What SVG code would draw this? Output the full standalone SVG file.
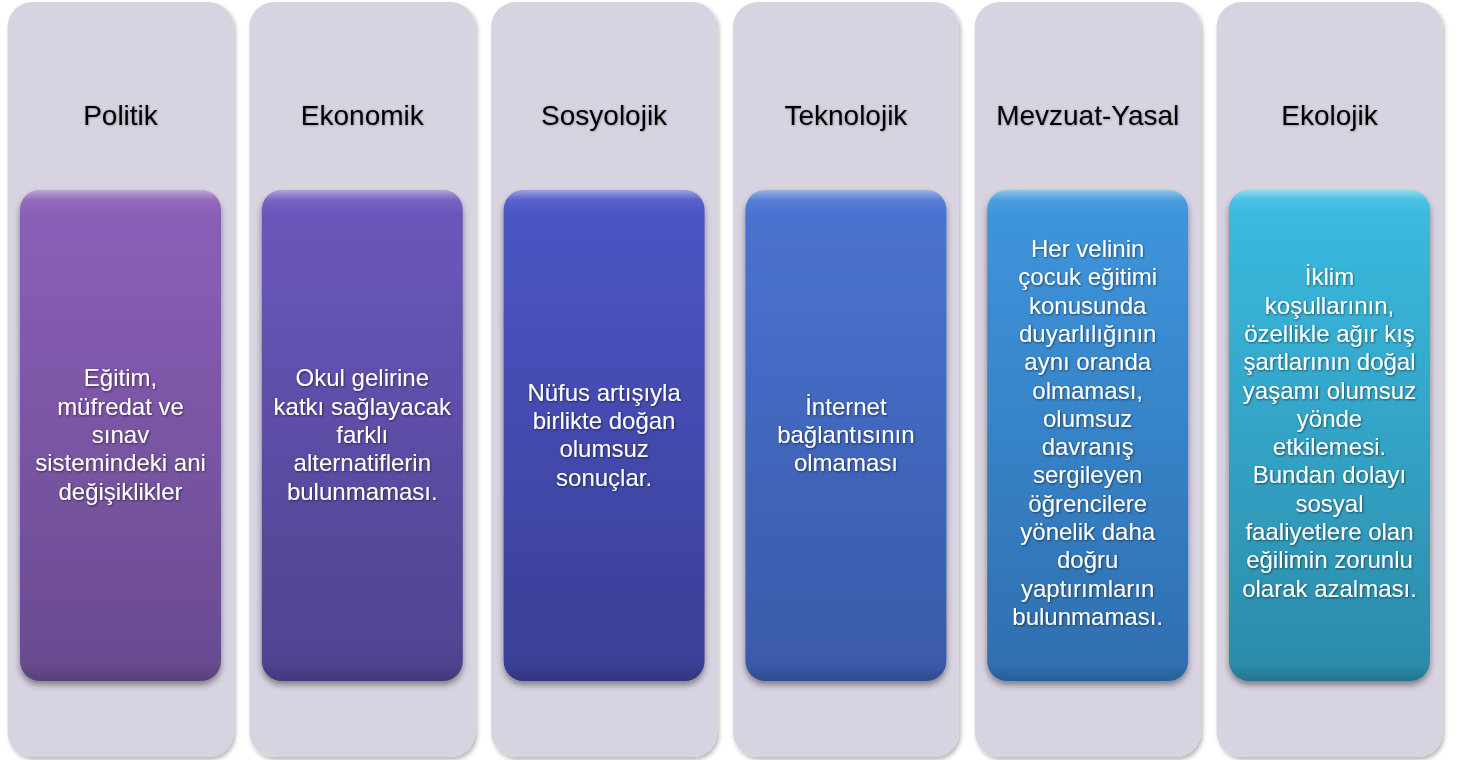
<svg xmlns="http://www.w3.org/2000/svg" width="1474" height="760" viewBox="0 0 1474 760">
<defs>
<style>
.outer{fill:#d7d3e1;filter:url(#oshadow)}
.inner{filter:url(#ishadow)}
.bevel{fill:url(#bevel)}
.head{font-family:"Liberation Sans",Arial,sans-serif;font-size:28px;fill:#000;text-anchor:middle;filter:url(#hshadow)}
.body{font-family:"Liberation Sans",Arial,sans-serif;font-size:24px;fill:#fff;text-anchor:middle;filter:url(#tshadow)}
</style>
<filter id="oshadow" x="-10%" y="-5%" width="125%" height="112%"><feDropShadow dx="2" dy="3" stdDeviation="2" flood-color="#000" flood-opacity="0.28"/></filter>
<filter id="ishadow" x="-10%" y="-5%" width="125%" height="115%"><feDropShadow dx="0" dy="4" stdDeviation="3" flood-color="#000" flood-opacity="0.4"/></filter>
<filter id="hshadow" x="-10%" y="-30%" width="120%" height="160%"><feDropShadow dx="0.5" dy="0.5" stdDeviation="0.8" flood-color="#000" flood-opacity="0.35"/></filter>
<filter id="tshadow" x="-10%" y="-10%" width="120%" height="120%"><feDropShadow dx="0.8" dy="1" stdDeviation="1" flood-color="#000" flood-opacity="0.55"/></filter>
<linearGradient id="bevel" x1="0" y1="0" x2="0" y2="1">
<stop offset="0" stop-color="#fff" stop-opacity="0.45"/>
<stop offset="0.02" stop-color="#fff" stop-opacity="0.08"/>
<stop offset="0.05" stop-color="#fff" stop-opacity="0"/>
<stop offset="0.965" stop-color="#000" stop-opacity="0"/>
<stop offset="1" stop-color="#000" stop-opacity="0.15"/>
</linearGradient>
<linearGradient id="g1" x1="0" y1="0" x2="0" y2="1"><stop offset="0" stop-color="#8c5fb9"/><stop offset="1" stop-color="#684b8f"/></linearGradient>
<linearGradient id="g2" x1="0" y1="0" x2="0" y2="1"><stop offset="0" stop-color="#6c58bd"/><stop offset="1" stop-color="#4f428f"/></linearGradient>
<linearGradient id="g3" x1="0" y1="0" x2="0" y2="1"><stop offset="0" stop-color="#4c56c6"/><stop offset="1" stop-color="#3a3e95"/></linearGradient>
<linearGradient id="g4" x1="0" y1="0" x2="0" y2="1"><stop offset="0" stop-color="#4a74d2"/><stop offset="1" stop-color="#3959a8"/></linearGradient>
<linearGradient id="g5" x1="0" y1="0" x2="0" y2="1"><stop offset="0" stop-color="#3e97de"/><stop offset="1" stop-color="#2f6eaf"/></linearGradient>
<linearGradient id="g6" x1="0" y1="0" x2="0" y2="1"><stop offset="0" stop-color="#3bbce3"/><stop offset="1" stop-color="#2b8aa8"/></linearGradient>
</defs>
<rect width="1474" height="760" fill="#fff"/>

<g id="col-politik">
<rect class="outer" x="7.5" y="2" width="226" height="755" rx="25"/>
<text class="head" x="120.5" y="125">Politik</text>
<rect class="inner" x="20" y="190" width="201" height="491" rx="20" fill="url(#g1)"/>
<rect class="bevel" x="20" y="190" width="201" height="491" rx="20"/>
<text class="body" y="386.4"><tspan x="120.5">Eğitim,</tspan><tspan x="120.5" dy="28.3">müfredat ve</tspan><tspan x="120.5" dy="28.3">sınav</tspan><tspan x="120.5" dy="28.3">sistemindeki ani</tspan><tspan x="120.5" dy="28.3">değişiklikler</tspan></text>
</g>

<g id="col-ekonomik">
<rect class="outer" x="249.3" y="2" width="226" height="755" rx="25"/>
<text class="head" x="362.3" y="125">Ekonomik</text>
<rect class="inner" x="261.8" y="190" width="201" height="491" rx="20" fill="url(#g2)"/>
<rect class="bevel" x="261.8" y="190" width="201" height="491" rx="20"/>
<text class="body" y="386.4"><tspan x="362.3">Okul gelirine</tspan><tspan x="362.3" dy="28.3">katkı sağlayacak</tspan><tspan x="362.3" dy="28.3">farklı</tspan><tspan x="362.3" dy="28.3">alternatiflerin</tspan><tspan x="362.3" dy="28.3">bulunmaması.</tspan></text>
</g>

<g id="col-sosyolojik">
<rect class="outer" x="491.1" y="2" width="226" height="755" rx="25"/>
<text class="head" x="604.1" y="125">Sosyolojik</text>
<rect class="inner" x="503.6" y="190" width="201" height="491" rx="20" fill="url(#g3)"/>
<rect class="bevel" x="503.6" y="190" width="201" height="491" rx="20"/>
<text class="body" y="400.6"><tspan x="604.1">Nüfus artışıyla</tspan><tspan x="604.1" dy="28.3">birlikte doğan</tspan><tspan x="604.1" dy="28.3">olumsuz</tspan><tspan x="604.1" dy="28.3">sonuçlar.</tspan></text>
</g>

<g id="col-teknolojik">
<rect class="outer" x="732.9" y="2" width="226" height="755" rx="25"/>
<text class="head" x="845.9" y="125">Teknolojik</text>
<rect class="inner" x="745.4" y="190" width="201" height="491" rx="20" fill="url(#g4)"/>
<rect class="bevel" x="745.4" y="190" width="201" height="491" rx="20"/>
<text class="body" y="414.7"><tspan x="845.9">İnternet</tspan><tspan x="845.9" dy="28.3">bağlantısının</tspan><tspan x="845.9" dy="28.3">olmaması</tspan></text>
</g>

<g id="col-mevzuat">
<rect class="outer" x="974.7" y="2" width="226" height="755" rx="25"/>
<text class="head" x="1087.7" y="125">Mevzuat-Yasal</text>
<rect class="inner" x="987.2" y="190" width="201" height="491" rx="20" fill="url(#g5)"/>
<rect class="bevel" x="987.2" y="190" width="201" height="491" rx="20"/>
<text class="body" y="257"><tspan x="1087.7">Her velinin</tspan><tspan x="1087.7" dy="28.3">çocuk eğitimi</tspan><tspan x="1087.7" dy="28.3">konusunda</tspan><tspan x="1087.7" dy="28.3">duyarlılığının</tspan><tspan x="1087.7" dy="28.3">aynı oranda</tspan><tspan x="1087.7" dy="28.3">olmaması,</tspan><tspan x="1087.7" dy="28.3">olumsuz</tspan><tspan x="1087.7" dy="28.3">davranış</tspan><tspan x="1087.7" dy="28.3">sergileyen</tspan><tspan x="1087.7" dy="28.3">öğrencilere</tspan><tspan x="1087.7" dy="28.3">yönelik daha</tspan><tspan x="1087.7" dy="28.3">doğru</tspan><tspan x="1087.7" dy="28.3">yaptırımların</tspan><tspan x="1087.7" dy="28.3">bulunmaması.</tspan></text>
</g>

<g id="col-ekolojik">
<rect class="outer" x="1216.5" y="2" width="226" height="755" rx="25"/>
<text class="head" x="1329.5" y="125">Ekolojik</text>
<rect class="inner" x="1229" y="190" width="201" height="491" rx="20" fill="url(#g6)"/>
<rect class="bevel" x="1229" y="190" width="201" height="491" rx="20"/>
<text class="body" y="285.3"><tspan x="1329.5">İklim</tspan><tspan x="1329.5" dy="28.3">koşullarının,</tspan><tspan x="1329.5" dy="28.3">özellikle ağır kış</tspan><tspan x="1329.5" dy="28.3">şartlarının doğal</tspan><tspan x="1329.5" dy="28.3">yaşamı olumsuz</tspan><tspan x="1329.5" dy="28.3">yönde</tspan><tspan x="1329.5" dy="28.3">etkilemesi.</tspan><tspan x="1329.5" dy="28.3">Bundan dolayı</tspan><tspan x="1329.5" dy="28.3">sosyal</tspan><tspan x="1329.5" dy="28.3">faaliyetlere olan</tspan><tspan x="1329.5" dy="28.3">eğilimin zorunlu</tspan><tspan x="1329.5" dy="28.3">olarak azalması.</tspan></text>
</g>

<g id="connectors"/>
</svg>
